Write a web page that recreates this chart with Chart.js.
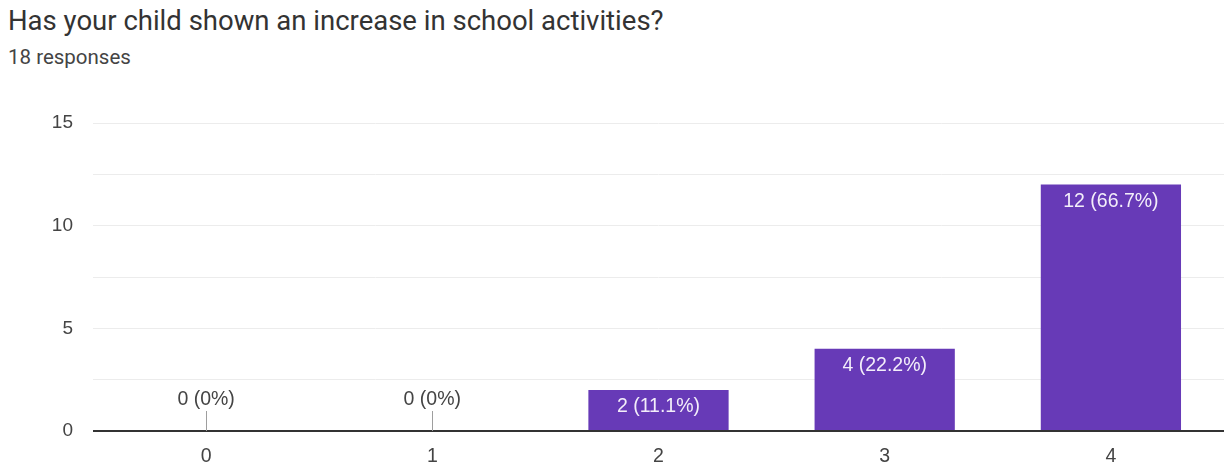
<!DOCTYPE html>
<html>
<head>
<meta charset="utf-8">
<script src="https://cdn.jsdelivr.net/npm/chart.js@4.4.1/dist/chart.umd.min.js"></script>
<style>
  html, body { margin: 0; padding: 0; background: #fff; }
  body { width: 1231px; height: 465px; position: relative; overflow: hidden; }
  #title { position: absolute; left: 8px; top: 4px; font-family: Roboto, sans-serif; font-size: 27.5px; color: #333; white-space: nowrap; }
  #sub { position: absolute; left: 8px; top: 45px; font-family: Roboto, sans-serif; font-size: 20.5px; color: #444; white-space: nowrap; }
  #wrap { position: absolute; left: 0; top: 0; width: 1231px; height: 465px; }
</style>
</head>
<body>
<div id="title">Has your child shown an increase in school activities?</div>
<div id="sub">18 responses</div>
<div id="wrap"><canvas id="c" width="1231" height="465"></canvas></div>
<script>
const categories = ['0', '1', '2', '3', '4'];
const counts = [0, 0, 2, 4, 12];
const percents = ['0%', '0%', '11.1%', '22.2%', '66.7%'];
const yTicks = [0, 5, 10, 15];

const labelPlugin = {
  id: 'barLabels',
  afterDatasetsDraw(chart) {
    const ctx = chart.ctx;
    const meta = chart.getDatasetMeta(0);
    const base = chart.scales.y.getPixelForValue(0);
    ctx.save();
    ctx.font = '19.5px "Liberation Sans", Arial, sans-serif';
    ctx.textAlign = 'center';
    ctx.textBaseline = 'middle';
    meta.data.forEach((bar, i) => {
      const txt = counts[i] + ' (' + percents[i] + ')';
      if (counts[i] === 0) {
        ctx.strokeStyle = '#9e9e9e';
        ctx.lineWidth = 1;
        ctx.beginPath();
        ctx.moveTo(Math.round(bar.x) + 0.5, base - 20);
        ctx.lineTo(Math.round(bar.x) + 0.5, base);
        ctx.stroke();
        ctx.fillStyle = '#444';
        ctx.fillText(txt, bar.x, base - 31);
      } else {
        ctx.fillStyle = '#f3eefa';
        ctx.fillText(txt, bar.x, bar.y + 17);
      }
    });
    ctx.restore();
  }
};

new Chart(document.getElementById('c'), {
  type: 'bar',
  data: {
    labels: categories,
    datasets: [{
      data: counts,
      backgroundColor: '#673ab7',
      borderWidth: 0,
      categoryPercentage: 1.0,
      barPercentage: 0.62
    }]
  },
  options: {
    responsive: false,
    animation: false,
    layout: { padding: { top: 123, right: 7, left: 0, bottom: 0 } },
    plugins: { legend: { display: false }, tooltip: { enabled: false }, title: { display: false } },
    scales: {
      x: {
        grid: { display: false },
        border: { display: false },
        ticks: { color: '#444', font: { family: '"Liberation Sans", Arial, sans-serif', size: 19.5 }, padding: 6 },
        afterFit(scale) { scale.height = 34; }
      },
      y: {
        min: 0, max: 15,
        border: { display: false },
        grid: {
          drawTicks: false,
          color: (c) => c.tick && c.tick.value === 0 ? '#333' : '#ececec',
          lineWidth: (c) => c.tick && c.tick.value === 0 ? 2 : 1
        },
        ticks: {
          stepSize: 2.5,
          padding: 20,
          color: '#444',
          font: { family: '"Liberation Sans", Arial, sans-serif', size: 19 },
          callback: (v) => yTicks.includes(v) ? String(v) : ''
        },
        afterFit(scale) { scale.width = 93; }
      }
    }
  },
  plugins: [labelPlugin]
});
</script>
</body>
</html>
